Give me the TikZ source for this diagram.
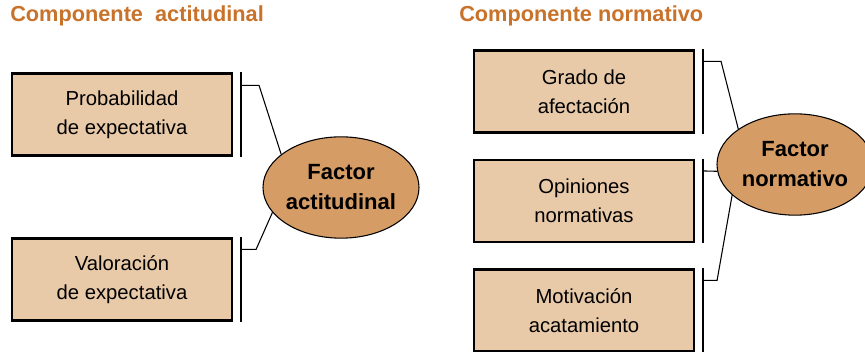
\documentclass[tikz,border=0pt]{standalone}
\usepackage{fontspec}
\setmainfont{Liberation Sans}
\usetikzlibrary{shapes, positioning}

\definecolor{titleorange}{RGB}{200,114,42}
\definecolor{boxfill}{RGB}{232,201,168}
\definecolor{ovalfill}{RGB}{214,156,101}

\tikzset{
  compbox/.style={draw, line width=1.6pt, fill=boxfill, minimum width=165pt,
    minimum height=61.5pt, align=center, font=\fontsize{15.2}{22}\selectfont},
  factor/.style={draw, line width=0.8pt, ellipse, fill=ovalfill, minimum width=117pt,
    minimum height=76pt, inner sep=0pt, align=center,
    font=\fontsize{16.5}{22.5}\selectfont\bfseries},
  heading/.style={anchor=west, text=titleorange, inner sep=0pt,
    font=\fontsize{16.3}{18}\selectfont\bfseries},
  bracket/.style={line width=1pt},
  link/.style={line width=0.8pt}
}

\begin{document}
\begin{tikzpicture}[x=0.75pt, y=-0.75pt]
            \useasboundingbox (0,0) rectangle (865,352);

            % Nodes
            \node[heading] (ta) at (10,16) {Componente\ \ actitudinal};
            \node[heading] (tn) at (459,16) {Componente normativo};

            \node[compbox] (prob) at (122,114.5) {Probabilidad\\de expectativa};
            \node[compbox] (valo) at (122,279.5) {Valoración\\de expectativa};
            \node[factor] (fa) at (341,187.5) {Factor\\actitudinal};

            \node[compbox] (grado) at (584,91.5) {Grado de\\afectación};
            \node[compbox] (opin) at (584,201) {Opiniones\\normativas};
            \node[compbox] (moti) at (584,310.5) {Motivación\\acatamiento};
            \node[factor] (fn) at (795,164.5) {Factor\\normativo};

            % Brackets
            \foreach \b in {prob, valo, grado, opin, moti}
              \draw[bracket] ([xshift=6pt]\b.north east) -- ([xshift=6pt]\b.south east);

            % Edges
            \draw[link] ([xshift=6pt,yshift=-9.75pt]prob.north east) -- ++(13.5pt,0) -- (fa.151);
            \draw[link] ([xshift=6pt,yshift=-9pt]valo.north east) -- ++(11.25pt,0) -- (fa.200);
            \draw[link] ([xshift=6pt,yshift=-9pt]grado.north east) -- ++(13.5pt,0) -- (fn.148);
            \draw[link] ([xshift=6pt,yshift=-9pt]opin.north east) -- (fn.185);
            \draw[link] ([xshift=6pt,yshift=-9pt]moti.north east) -- ++(10.5pt,0) -- (fn.206);
        \end{tikzpicture}
\end{document}
